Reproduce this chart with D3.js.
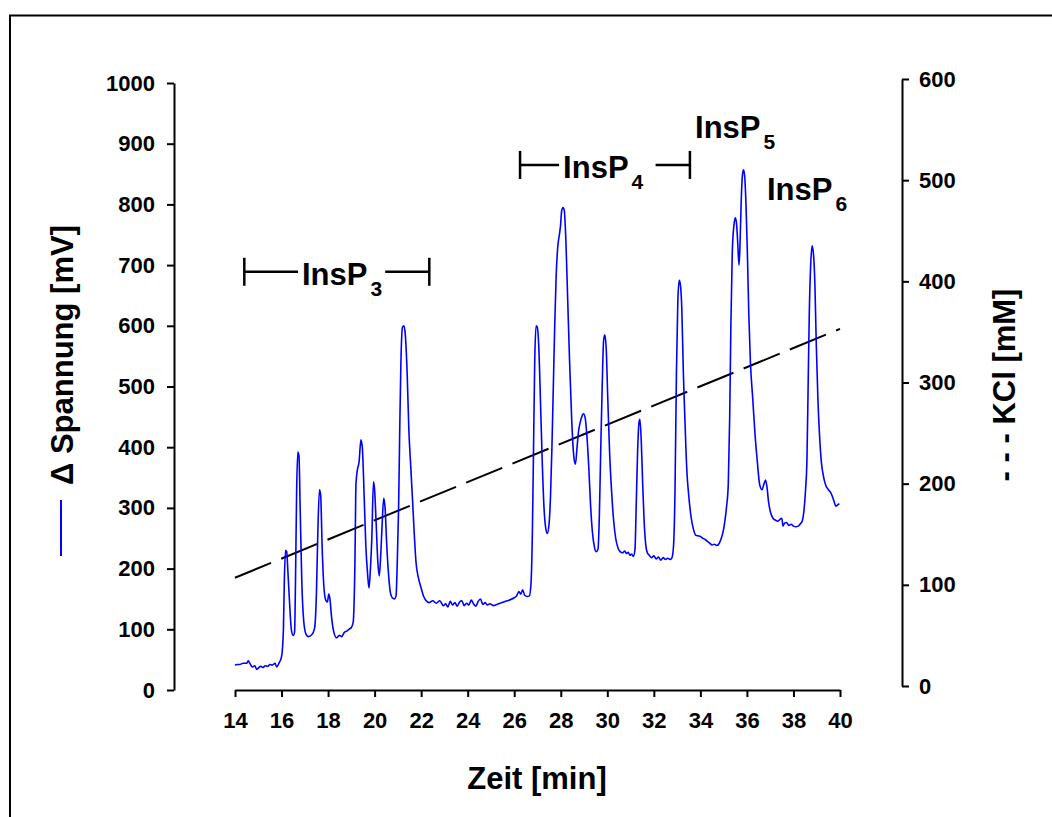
<!DOCTYPE html>
<html>
<head>
<meta charset="utf-8">
<script src="https://cdn.jsdelivr.net/npm/d3@7"></script>
<style>
  html, body { margin: 0; padding: 0; background: #fff; }
  svg { display: block; }
  text { font-family: "Liberation Sans", Arial, sans-serif; font-weight: bold; fill: #000; }
</style>
</head>
<body>
<svg id="chart" width="1052" height="817"></svg>
<script>
// Detector trace: time [min] and voltage change [mV]
const timeMin = [
  14.0, 14.1, 14.2, 14.35, 14.5, 14.57, 14.65, 14.75, 14.85, 14.93, 15.0, 15.1, 15.2, 15.3, 15.4, 15.5, 15.6, 15.72, 15.79, 15.9,
  16.0, 16.08, 16.12, 16.17, 16.22, 16.28, 16.35, 16.42, 16.5, 16.56, 16.6, 16.65, 16.7, 16.75, 16.8, 16.87, 16.95, 17.05, 17.15, 17.3,
  17.42, 17.5, 17.56, 17.63, 17.68, 17.75, 17.82, 17.9, 17.97, 18.03, 18.08, 18.15, 18.25, 18.37, 18.48, 18.58, 18.7, 18.8, 18.9, 19.0,
  19.08, 19.15, 19.2, 19.27, 19.33, 19.41, 19.47, 19.55, 19.62, 19.7, 19.76, 19.82, 19.88, 19.95, 20.0, 20.06, 20.14, 20.2, 20.26, 20.32,
  20.39, 20.45, 20.52, 20.6, 20.68, 20.76, 20.85, 20.92, 20.98, 21.03, 21.08, 21.13, 21.2, 21.26, 21.32, 21.4, 21.47, 21.55, 21.62, 21.7,
  21.78, 21.88, 22.0, 22.1, 22.2, 22.35, 22.5, 22.65, 22.8, 22.95, 23.05, 23.15, 23.25, 23.35, 23.45, 23.55, 23.65, 23.75, 23.85, 23.95,
  24.05, 24.15, 24.25, 24.35, 24.45, 24.55, 24.65, 24.75, 24.85, 24.95, 25.1, 25.25, 25.4, 25.55, 25.7, 25.85, 26.0, 26.1, 26.2, 26.28,
  26.36, 26.45, 26.55, 26.65, 26.72, 26.78, 26.83, 26.88, 26.94, 26.99, 27.05, 27.11, 27.2, 27.28, 27.36, 27.42, 27.5, 27.56, 27.62, 27.68,
  27.74, 27.8, 27.87, 27.94, 27.99, 28.04, 28.1, 28.15, 28.22, 28.3, 28.38, 28.47, 28.56, 28.63, 28.7, 28.76, 28.83, 28.92, 28.98, 29.05,
  29.13, 29.2, 29.28, 29.36, 29.45, 29.52, 29.6, 29.66, 29.72, 29.78, 29.84, 29.89, 29.95, 30.02, 30.1, 30.18, 30.27, 30.36, 30.46, 30.55,
  30.65, 30.75, 30.82, 30.9, 30.97, 31.05, 31.12, 31.19, 31.24, 31.3, 31.36, 31.4, 31.46, 31.52, 31.58, 31.65, 31.72, 31.8, 31.9, 32.0,
  32.1, 32.2, 32.3, 32.4, 32.5, 32.6, 32.7, 32.78, 32.85, 32.91, 32.97, 33.03, 33.09, 33.14, 33.2, 33.27, 33.34, 33.42, 33.5, 33.6,
  33.7, 33.8, 33.9, 34.0, 34.1, 34.2, 34.3, 34.4, 34.5, 34.6, 34.7, 34.8, 34.88, 34.96, 35.04, 35.12, 35.2, 35.26, 35.31, 35.37,
  35.44, 35.5, 35.55, 35.6, 35.66, 35.7, 35.75, 35.8, 35.85, 35.9, 35.96, 36.02, 36.08, 36.15, 36.25, 36.35, 36.45, 36.55, 36.65, 36.72,
  36.8, 36.86, 36.93, 37.02, 37.12, 37.22, 37.32, 37.42, 37.5, 37.55, 37.62, 37.7, 37.8, 37.9, 38.0, 38.1, 38.2, 38.3, 38.38, 38.45,
  38.52, 38.58, 38.63, 38.68, 38.74, 38.8, 38.86, 38.92, 38.98, 39.05, 39.12, 39.2, 39.3, 39.4, 39.5, 39.6, 39.68, 39.75, 39.82, 39.9,
  39.97
];
const spannungMV = [
  41, 42, 42, 44, 44, 48, 43, 38, 40, 34, 36, 39, 37, 40, 39, 42, 41, 44, 38, 45,
  55, 99, 180, 230, 228, 190, 140, 100, 90, 95, 180, 330, 392, 385, 300, 180, 115, 92, 88, 91,
  102, 160, 260, 330, 322, 230, 170, 148, 145, 158, 150, 120, 95, 86, 90, 88, 95, 97, 100, 103,
  112, 200, 340, 365, 375, 412, 400, 320, 240, 190, 168, 200, 250, 343, 330, 280, 210, 188, 220, 270,
  316, 300, 240, 190, 160, 152, 150, 155, 220, 300, 430, 540, 598, 600, 585, 520, 430, 370, 320, 260,
  210, 185, 168, 155, 148, 144, 147, 143, 147, 139, 142, 137, 146, 140, 144, 138, 145, 147, 139, 143,
  140, 148, 142, 138, 146, 150, 141, 144, 140, 142, 139, 141, 143, 145, 147, 149, 152, 155, 162, 158,
  165, 156, 154, 155, 175, 260, 400, 540, 600, 598, 570, 500, 380, 300, 265, 258, 275, 320, 400, 500,
  600, 680, 730, 750, 765, 790, 795, 790, 740, 640, 540, 445, 385, 372, 400, 425, 440, 452, 455, 448,
  415, 370, 305, 260, 235, 228, 232, 290, 400, 500, 575, 585, 565, 480, 390, 330, 280, 250, 234, 228,
  226, 229, 225, 227, 222, 224, 220, 232, 300, 390, 440, 446, 410, 340, 280, 240, 226, 222, 218, 221,
  216, 219, 214, 218, 215, 217, 215, 218, 240, 330, 520, 640, 675, 668, 630, 520, 440, 360, 320, 285,
  265, 255, 254, 253, 250, 248, 245, 242, 239, 240, 238, 241, 248, 258, 275, 300, 340, 450, 600, 720,
  765, 778, 770, 740, 700, 730, 800, 845, 857, 848, 800, 720, 620, 540, 480, 420, 375, 338, 330, 338,
  346, 335, 310, 292, 283, 280, 278, 281, 283, 270, 275, 276, 271, 273, 270, 269, 270, 274, 279, 295,
  330, 380, 500, 620, 700, 732, 718, 670, 570, 480, 420, 375, 350, 336, 330, 325, 318, 310, 303, 305,
  307
];

// Linear KCl gradient [mM]
const kclTime = [14, 40];
const kclMM = [107, 353];

// Axis ticks
const timeTicks = d3.range(14, 41, 2);
const spannungTicks = d3.range(0, 1001, 100);
const kclTicks = d3.range(0, 601, 100);

// Inositol phosphate groups: elution window [min], level [mV]
const groupNames = ["InsP", "InsP"];
const groupSubs = ["3", "4"];
const groupFrom = [14.4, 26.25];
const groupTo = [22.35, 33.55];
const groupLevel = [689, 865];
const groupTextStart = [16.88, 28.1];

// Single peak labels
const peakNames = ["InsP", "InsP"];
const peakSubs = ["5", "6"];
const peakTextTime = [33.77, 36.86];
const peakTextLevel = [909, 807];

const svg = d3.select("#chart");

// outer frame
svg.append("rect")
  .attr("x", 10).attr("y", 15.5)
  .attr("width", 1100).attr("height", 900)
  .attr("fill", "none").attr("stroke", "#000").attr("stroke-width", 2);

const x = d3.scaleLinear().domain([14, 40]).range([235, 840]);
const yL = d3.scaleLinear().domain([0, 1000]).range([690, 83]);
const yR = d3.scaleLinear().domain([0, 600]).range([686, 79]);

function styleAxis(g, size) {
  g.selectAll("path.domain").attr("stroke", "#000").attr("stroke-width", 2);
  g.selectAll(".tick line").attr("stroke", "#000").attr("stroke-width", 2);
  g.selectAll(".tick text")
    .attr("fill", "#000")
    .style("font-family", '"Liberation Sans", Arial, sans-serif')
    .style("font-weight", "bold")
    .style("font-size", size + "px");
}

// bottom axis
const gx = svg.append("g").attr("transform", "translate(0,690)")
  .call(d3.axisBottom(x).tickValues(timeTicks).tickSize(7).tickSizeOuter(0).tickPadding(15).tickFormat(d3.format("d")));
styleAxis(gx, 22);

// left axis
const gl = svg.append("g").attr("transform", "translate(174,0)")
  .call(d3.axisLeft(yL).tickValues(spannungTicks).tickSize(7).tickSizeOuter(0).tickPadding(12).tickFormat(d3.format("d")));
styleAxis(gl, 22);

// right axis
const gr = svg.append("g").attr("transform", "translate(902,0)")
  .call(d3.axisRight(yR).tickValues(kclTicks).tickSize(7).tickSizeOuter(0).tickPadding(10).tickFormat(d3.format("d")));
styleAxis(gr, 22);

// axis titles
svg.append("text")
  .attr("x", 537).attr("y", 789)
  .attr("text-anchor", "middle")
  .style("font-size", "31px")
  .text("Zeit [min]");

svg.append("text")
  .attr("transform", "translate(73,355) rotate(-90)")
  .attr("text-anchor", "middle")
  .style("font-size", "31px")
  .text("\u0394 Spannung [mV]");

// blue legend stroke beside the left title
svg.append("line")
  .attr("x1", 61).attr("x2", 61)
  .attr("y1", 500).attr("y2", 556)
  .attr("stroke", "#0000ff").attr("stroke-width", 2);

svg.append("text")
  .attr("transform", "translate(1015,385) rotate(-90)")
  .attr("text-anchor", "middle")
  .style("font-size", "31px")
  .text("- - - KCl [mM]");

// KCl gradient (dashed, right axis)
const kclLine = d3.line()
  .x((d, i) => x(kclTime[i]))
  .y(d => yR(d));
svg.append("path")
  .attr("d", kclLine(kclMM))
  .attr("fill", "none")
  .attr("stroke", "#000")
  .attr("stroke-width", 2)
  .attr("stroke-dasharray", "39,11");

// detector trace (left axis)
const trace = d3.line()
  .x((d, i) => x(timeMin[i]))
  .y(d => yL(d))
  .curve(d3.curveMonotoneX);
svg.append("path")
  .attr("d", trace(spannungMV))
  .attr("fill", "none")
  .attr("stroke", "#0000ff")
  .attr("stroke-width", 1.6)
  .attr("stroke-linejoin", "round");

// labels with subscript
function subLabel(xPos, yPos, name, sub) {
  const t = svg.append("text")
    .attr("x", xPos).attr("y", yPos)
    .style("font-size", "31px");
  t.append("tspan").text(name);
  t.append("tspan")
    .attr("dx", 3).attr("dy", 11)
    .style("font-size", "21px")
    .text(sub);
  return t;
}

// grouped elution windows with brackets
groupNames.forEach((name, i) => {
  const yPos = yL(groupLevel[i]);
  const x0 = x(groupFrom[i]);
  const x1 = x(groupTo[i]);
  const t = subLabel(x(groupTextStart[i]), yPos + 13, name, groupSubs[i]);
  const bb = t.node().getBBox();
  const g = svg.append("g").attr("stroke", "#000").attr("stroke-width", 2.5);
  g.append("line").attr("x1", x0).attr("x2", x0).attr("y1", yPos - 14).attr("y2", yPos + 14);
  g.append("line").attr("x1", x1).attr("x2", x1).attr("y1", yPos - 14).attr("y2", yPos + 14);
  g.append("line").attr("x1", x0).attr("x2", bb.x - 4).attr("y1", yPos).attr("y2", yPos);
  g.append("line").attr("x1", bb.x + bb.width + (i === 0 ? 3 : 12)).attr("x2", x1).attr("y1", yPos).attr("y2", yPos);
});

peakNames.forEach((name, i) => {
  subLabel(x(peakTextTime[i]), yL(peakTextLevel[i]), name, peakSubs[i]);
});
</script>
</body>
</html>
